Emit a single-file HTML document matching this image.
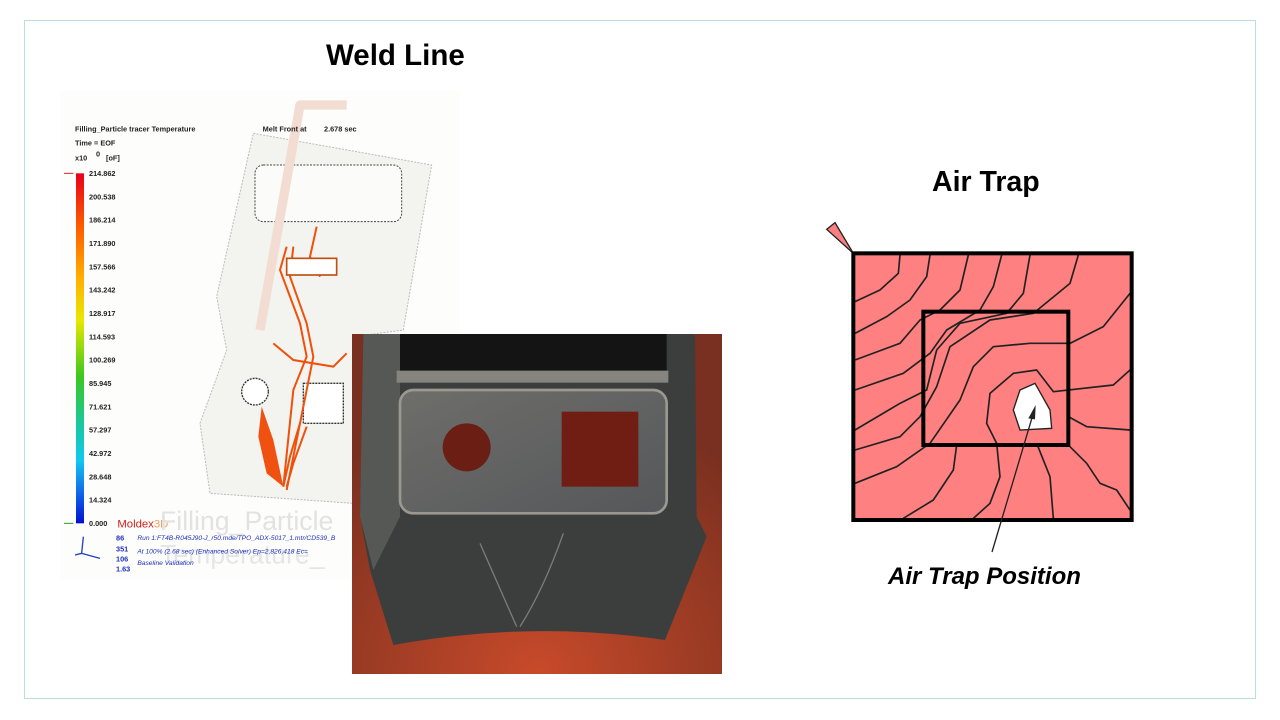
<!DOCTYPE html>
<html><head><meta charset="utf-8"><style>
body{margin:0;width:1280px;height:720px;background:#fff;position:relative;overflow:hidden;font-family:"Liberation Sans",sans-serif}
.frame{position:absolute;left:24px;top:20px;width:1230px;height:677px;border:1.5px solid #bcdce8}
.t{position:absolute;font-weight:bold;color:#000;white-space:nowrap}
svg{position:absolute}
</style></head><body>
<div class="frame"></div>
<div class="t" style="left:326px;top:39px;font-size:29.5px">Weld Line</div>
<div class="t" style="left:932px;top:166px;font-size:28.5px">Air Trap</div>
<div class="t" style="left:888px;top:563px;font-size:24px;font-style:italic">Air Trap Position</div>

<!-- simulation image -->
<svg style="left:60px;top:90px" width="400" height="490" viewBox="0 0 1200 1470">
<defs><linearGradient id="cb" x1="0" y1="0" x2="0" y2="1">
<stop offset="0" stop-color="#e8001a"/><stop offset="0.15" stop-color="#ff5a00"/><stop offset="0.3" stop-color="#ffb000"/><stop offset="0.42" stop-color="#e8e800"/><stop offset="0.58" stop-color="#3cc81e"/><stop offset="0.72" stop-color="#18c8a0"/><stop offset="0.82" stop-color="#10c8f0"/><stop offset="0.92" stop-color="#1060e8"/><stop offset="1" stop-color="#0010d0"/></linearGradient></defs>
<rect width="1200" height="1470" fill="#fdfdfc"/>
<path d="M580,130 L1115,225 L1030,720 L880,740 L880,1240 L450,1210 L420,1000 L500,780 L470,620 Z" fill="#f3f3ef" stroke="#bbb" stroke-width="3" stroke-dasharray="6 4"/>
<rect x="585" y="225" width="440" height="170" rx="25" fill="#fbfbf9" stroke="#444" stroke-width="3" stroke-dasharray="6 4"/>
<circle cx="585" cy="905" r="40" fill="#fff" stroke="#333" stroke-width="4" stroke-dasharray="6 3"/>
<rect x="730" y="880" width="120" height="120" fill="#fff" stroke="#333" stroke-width="4" stroke-dasharray="6 3"/>
<path d="M860,45 L720,45 L600,720" fill="none" stroke="#f3ddd2" stroke-width="28" stroke-linejoin="round"/>
<g fill="none" stroke="#f0500a" stroke-width="6">
<path d="M680,470 L660,540 L720,700 L740,800 L700,900 L670,1190"/><path d="M700,470 L690,560 L740,700 L760,800 L680,1200"/>
<path d="M770,410 L750,500 L780,560"/><path d="M640,760 L700,810 L820,830 L860,790"/>
<path d="M720,1000 L690,1100 L670,1190"/><path d="M740,1010 L700,1120 L680,1190"/>
</g>
<path d="M605,950 L640,1050 L670,1190 L620,1150 L595,1040 Z" fill="#f05010"/>
<rect x="680" y="505" width="150" height="50" fill="#fff" stroke="#c05010" stroke-width="5"/>
<rect x="48" y="250" width="24" height="1050" fill="url(#cb)"/>
<g font-family="Liberation Sans" font-weight="bold" font-size="22" fill="#222">
<text x="45" y="125">Filling_Particle tracer Temperature</text><text x="608" y="125">Melt Front at</text><text x="792" y="125">2.678 sec</text>
<text x="45" y="167">Time = EOF</text><text x="45" y="212">x10</text><text x="108" y="200">0</text><text x="138" y="212">[oF]</text>
<text x="87" y="258">214.862</text><text x="87" y="328">200.538</text><text x="87" y="398">186.214</text><text x="87" y="468">171.890</text><text x="87" y="538">157.566</text><text x="87" y="608">143.242</text><text x="87" y="678">128.917</text><text x="87" y="748">114.593</text><text x="87" y="818">100.269</text><text x="87" y="888">85.945</text><text x="87" y="958">71.621</text><text x="87" y="1028">57.297</text><text x="87" y="1098">42.972</text><text x="87" y="1168">28.648</text><text x="87" y="1238">14.324</text><text x="87" y="1308">0.000</text>
</g>
<text x="172" y="1312" font-size="34" fill="#d0201a" font-family="Liberation Sans">Moldex<tspan fill="#f0a060">3D</tspan></text>
<text x="300" y="1320" font-size="80" fill="#e2e2e2" font-family="Liberation Sans">Filling_Particle</text>
<text x="300" y="1420" font-size="80" fill="#e6e6e6" font-family="Liberation Sans">Temperature_</text>
<g font-family="Liberation Sans" font-size="20" fill="#2030c0" font-style="italic">
<text x="232" y="1350">Run 1:FT4B-R045J90-J_r50.mde/TPO_ADX-5017_1.mtr/CD539_B</text>
<text x="232" y="1390">At 100% (2.68 sec) (Enhanced Solver) Ep=2,826,418 Ec=</text>
<text x="232" y="1425">Baseline Validation</text></g>
<g font-family="Liberation Sans" font-size="22" font-weight="bold" fill="#2030c0"><text x="168" y="1352">86</text><text x="168" y="1385">351</text><text x="168" y="1415">106</text><text x="168" y="1445">1.63</text></g>
<path d="M70,1340 L65,1390 M65,1390 L120,1405 M65,1390 L45,1395" stroke="#2040c0" stroke-width="4"/>
<path d="M12,250 L40,250" stroke="#e02020" stroke-width="3"/><path d="M12,1300 L40,1300" stroke="#20a020" stroke-width="3"/>
</svg>

<!-- photo -->
<svg style="left:350px;top:330px" width="375" height="350" viewBox="0 0 1125 1050">
<defs><radialGradient id="bg" cx="0.5" cy="1" r="0.8"><stop offset="0" stop-color="#c84a2a"/><stop offset="1" stop-color="#7a3020"/></radialGradient>
<linearGradient id="pn" x1="0" y1="0" x2="1" y2="1"><stop offset="0" stop-color="#6e6e6a"/><stop offset="1" stop-color="#55575a"/></linearGradient></defs>
<rect x="6" y="12" width="1110" height="1020" fill="url(#bg)"/>
<path d="M40,12 L1035,12 L1040,560 L1070,620 L1030,720 L945,930 Q540,870 130,945 L60,720 L30,560 Z" fill="#3b3e3c"/>
<path d="M40,12 L150,12 L150,560 L70,720 L30,560 Z" fill="#565855"/>
<rect x="150" y="12" width="800" height="110" fill="#141414"/>
<rect x="140" y="122" width="815" height="36" fill="#85847e"/>
<rect x="150" y="180" width="800" height="370" rx="40" fill="url(#pn)" stroke="#9a9890" stroke-width="8"/>
<circle cx="350" cy="352" r="72" fill="#6a1e14"/>
<rect x="635" y="245" width="230" height="225" fill="#701e14"/>
<path d="M390,640 Q460,800 500,890 M640,610 Q580,780 510,890" stroke="#7a7c7e" stroke-width="4" fill="none"/>
</svg>

<!-- air trap -->
<svg style="left:820px;top:210px" width="330" height="360" viewBox="0 0 990 1080">
<polygon points="20,58 45,38 100,130" fill="#f88080" stroke="#222" stroke-width="4"/>
<rect x="100" y="130" width="835" height="800" fill="#ff8080"/>
<g fill="none" stroke="#222" stroke-width="5" stroke-linejoin="round">
<path d="M240,135 L235,190 L180,240 L105,275"/>
<path d="M330,135 L320,200 L270,270 L200,320 L105,370"/>
<path d="M445,135 L420,240 L360,300 L300,330 L240,400 L105,450"/>
<path d="M545,135 L520,230 L480,300 L380,360 L330,430 L250,490 L105,540"/>
<path d="M630,135 L610,250 L560,310 L420,340 L350,420 L320,540 L240,580 L105,660"/>
<path d="M775,135 L750,220 L640,310 L510,330 L390,410 L350,530 L300,620 L240,680 L105,720"/>
<path d="M930,250 L850,350 L750,400 L630,400 L520,410 L460,470 L420,570 L330,700 L230,770 L105,820"/>
<path d="M930,480 L880,525 L700,545 L650,480 L580,490 L510,550 L500,640 L530,700 L540,800 L510,880 L460,925"/>
<path d="M930,660 L800,650 L745,620"/>
<path d="M650,700 L690,800 L700,925"/>
<path d="M750,710 L800,760 L840,820 L890,840 L930,900"/>
<path d="M410,705 L400,780 L340,870 L250,925"/>
</g>
<polygon points="580,600 600,540 645,520 690,600 695,655 600,660" fill="#fff" stroke="#222" stroke-width="4"/>
<rect x="100" y="130" width="835" height="800" fill="none" stroke="#000" stroke-width="12"/>
<rect x="310" y="305" width="435" height="400" fill="none" stroke="#000" stroke-width="12"/>
<line x1="516" y1="1026" x2="640" y2="610" stroke="#222" stroke-width="4"/>
<polygon points="647,585 625,625 645,628" fill="#222"/>
</svg>
</body></html>
